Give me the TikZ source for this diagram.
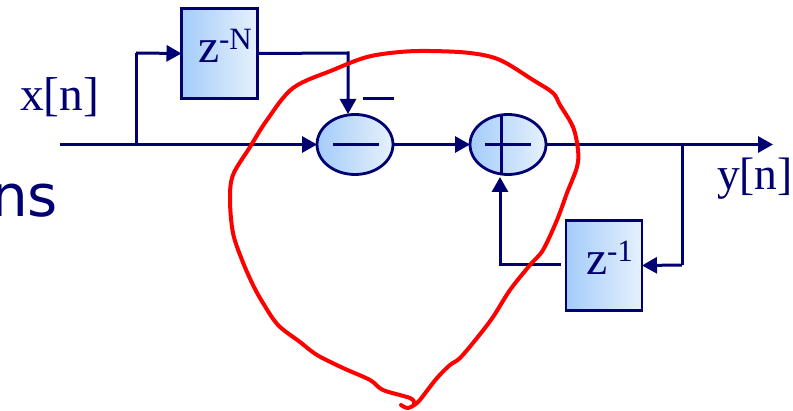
\documentclass[tikz,border=0pt]{standalone}
\usepackage{fontspec}
\setmainfont{Liberation Serif}
\newfontfamily\slidefont{DejaVu Sans}
\usetikzlibrary{arrows.meta,shapes.geometric}
\definecolor{navyink}{HTML}{000070}
\definecolor{fillL}{HTML}{A4CCF9}
\definecolor{fillR}{HTML}{E6F1FD}
\definecolor{inkred}{HTML}{FF0000}
\tikzset{
  x=1pt,y=-1pt,
  blockbox/.style={draw=navyink,line width=2.6pt,rectangle,left color=fillL,right color=fillR,minimum width=76pt,minimum height=90pt,inner sep=0pt,outer sep=0pt},
  sumnode/.style={draw=navyink,line width=2.8pt,ellipse,left color=fillL,right color=fillR,minimum width=76pt,minimum height=60pt,inner sep=0pt,outer sep=0pt},
  wire/.style={draw=navyink,line width=3pt},
  flow/.style={wire,-{Triangle[length=15pt,width=16pt]}},
  txt/.style={text=navyink,inner sep=0pt,outer sep=0pt,anchor=base west,font=\fontsize{47.5}{48}\selectfont},
  txtb/.style={text=navyink,inner sep=0pt,outer sep=0pt,anchor=base west,font=\fontsize{45.5}{46}\selectfont},
  sup/.style={text=navyink,inner sep=0pt,outer sep=0pt,anchor=base west,font=\fontsize{31}{31}\selectfont},
  ink/.style={draw=inkred,line width=4pt,line cap=round,line join=round}
}
\begin{document}
\begin{tikzpicture}
\useasboundingbox (0,0) rectangle (793,411);
\node[blockbox] (zn) at (219.5,53.5) {};
\node[blockbox] (zo) at (604,265.5) {};
\node[sumnode] (minus) at (355,144.5) {};
\node[sumnode] (plus) at (508,144.5) {};
% texts
\node[txt] (xl) at (20,111) {x[n]};
\node[txtb] (yl) at (717,190) {y[n]};
\node[txt] (znz) at (198,63) {z};
\node[sup] (znm) at (219,50) {-N};
\node[txt] (zoz) at (586,275) {z};
\node[sup] (zom) at (607,262) {-1};
\node[inner sep=0pt,outer sep=0pt,anchor=base west,text=navyink,font=\slidefont\fontsize{58}{58}\selectfont] (frag) at (-9,217) {ns};
% coordinates
\coordinate (in) at (60,144.5);
\coordinate (tap) at (136,144.5);
\coordinate (tapup) at (136,53);
\coordinate (elb) at (348,53);
\coordinate (minusin) at (348,114);
\coordinate (out) at (773,144.5);
\coordinate (fb) at (682,144.5);
\coordinate (fbd) at (682,265);
\coordinate (back) at (500,265);
\coordinate (backin) at (500,177);
\coordinate (backst) at (561,265);
% connectors
\draw[flow] (in) -- (minus.west);
\draw[wire] (tap) -- (tapup);
\draw[flow] (tapup) -- (zn.west);
\draw[flow] (zn.east) -- (elb) -- (minusin);
\draw[flow] (minus.east) -- (plus.west);
\draw[flow] (plus.east) -- (out);
\draw[wire] (fb) -- (fbd);
\draw[flow] (fbd) -- (zo.east);
\draw[flow] (backst) -- (back) -- (backin);
% signs
\coordinate (ma) at (333,144.5); \coordinate (mb) at (379,144.5);
\draw[wire] (ma) -- (mb);
\coordinate (pa) at (485,144.5); \coordinate (pb) at (531,144.5);
\coordinate (pc) at (501,114); \coordinate (pd) at (501,175);
\draw[wire] (pa) -- (pb);
\draw[wire] (pc) -- (pd);
\coordinate (sa) at (363,99); \coordinate (sb) at (394,99);
\draw[wire] (sa) -- (sb);
% hand-drawn red outline
\draw[ink] plot[smooth,tension=0.55] coordinates {
 (401,405) (408,408) (417,403) (423,396) (437,378) (450,365) (460,358) (477,338)
 (493,317) (510,290) (530,265) (543,250) (557,220) (567,193) (577,167) (578,150)
 (573,127) (560,105) (553,93) (533,80) (500,60) (470,53) (430,51) (400,52)
 (367,57) (333,70) (293,88) (267,120) (250,147) (233,175) (230,200) (233,233)
 (242,260) (253,285) (263,303) (278,325) (300,342) (317,355) (343,368) (370,380)
 (383,390) (410,398) (414,403)};
\end{tikzpicture}
\end{document}
